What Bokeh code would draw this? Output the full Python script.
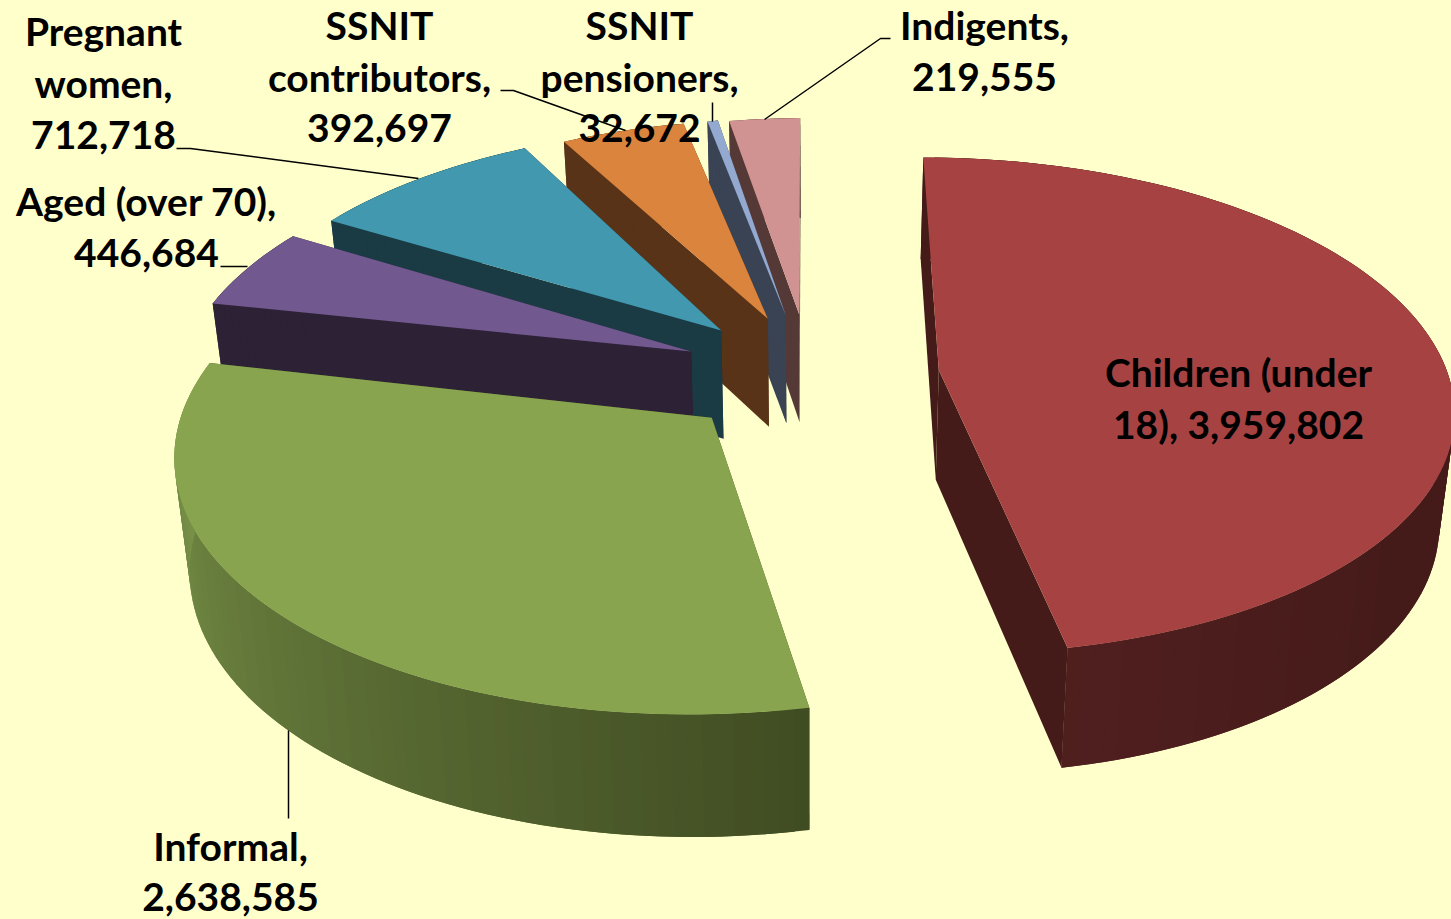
import math
from bokeh.plotting import figure
from bokeh.models import ColumnDataSource, Range1d
from bokeh.core.properties import value
from bokeh.embed import file_html
from bokeh.resources import INLINE

# ---- data
categories = ["Children (under 18)", "Informal", "Aged (over 70)", "Pregnant women",
              "SSNIT contributors", "SSNIT pensioners", "Indigents"]
values = [3959802, 2638585, 446684, 712718, 392697, 32672, 219555]

# ---- styles
top_colors = ["#A64342", "#89A44E", "#71588F", "#4198AF", "#DB843D", "#93A9CF", "#D19392"]
wall_colors = ["#451B1A", "#404C22", "#2D2136", "#1A3A44", "#593317", "#394354", "#553937"]
wall_end_colors = ["#4F1F1E", "#7F9A4D", "#2D2136", "#1A3A44", "#593317", "#394354", "#553937"]
BG = "#FFFFCC"

# ---- projection of the exploded pie (perspective on a tilted disc)
X0, Y0 = 812.0, 378.0
F, G = 510.0, 245.0
K = 0.14
EXPLODE = 0.25
DEPTH = 110.0
BOTTOM_SCALE = 0.976
START_DEG = -1.0
N_PER_RAD = 40

# per-slice fine adjustment of the drawing, in screen pixels / degrees
arc_shift = [(0, -1), (-15, -9), (-6, -6), (0, -4), (1, -1), (5, -1), (6, 0)]
apex_shift = [(0, -2), (-8, -5), (-4, -5), (-5, -5), (-2, -4), (-3, -5), (-1, -5)]
trim_deg = [(1.0, -0.7), (0, 0), (0, 0), (-0.3, -0.3), (0, 0.4), (0, 0), (0, 0)]


def project(px, py, shift, bottom=False):
    w = 1 + K * py
    sx = X0 + F * px / w + shift[0]
    sy = Y0 - G * py / w + shift[1]
    if bottom:
        sx = X0 + (sx - X0) * BOTTOM_SCALE
        sy = sy + DEPTH / w ** 0.6
    return sx, sy


def hex2rgb(c):
    return [int(c[i:i + 2], 16) for i in (1, 3, 5)]


def mix(a, b, t):
    ra, rb = hex2rgb(a), hex2rgb(b)
    return "#%02x%02x%02x" % tuple(round(x + (y - x) * t) for x, y in zip(ra, rb))


total = sum(values)
xs, ys, fills = [], [], []


def add(poly, col):
    xs.append([q[0] for q in poly])
    ys.append([q[1] for q in poly])
    fills.append(col)


spans = []
a = math.radians(START_DEG)
for val in values:
    b = a + 2 * math.pi * val / total
    spans.append((a, b))
    a = b

# paint back to front: the small back slices first, the large front ones last
paint_order = [6, 5, 4, 3, 2, 1, 0]
for i in paint_order:
    a, b = spans[i]
    mid = (a + b) / 2
    ax, ay = EXPLODE * math.sin(mid), EXPLODE * math.cos(mid)
    a2 = a + math.radians(trim_deg[i][0])
    b2 = b - math.radians(trim_deg[i][1])
    n = max(3, int((b2 - a2) * N_PER_RAD))
    angs = [a2 + (b2 - a2) * j / n for j in range(n + 1)]
    pts = [(ax + math.sin(t), ay + math.cos(t)) for t in angs]
    top = [project(q[0], q[1], arc_shift[i]) for q in pts]
    bot = [project(q[0], q[1], arc_shift[i], bottom=True) for q in pts]
    atop = project(ax, ay, apex_shift[i])
    abot = project(ax, ay, apex_shift[i], bottom=True)
    # radial walls
    add([atop, top[0], bot[0], abot], wall_colors[i])
    add([atop, top[-1], bot[-1], abot], wall_colors[i])
    # outer wall: each strip overlaps the next one so that no seams show
    for j in range(n):
        t = (j + 0.5) / n
        if i == 0:
            t = max(0, (t - 0.75) * 4)
        c = mix(wall_colors[i], wall_end_colors[i], t)
        e = min(j + 2, n)
        add([top[j], top[e], bot[e], bot[j]], c)
    # top face
    add([atop] + top, top_colors[i])

p = figure(width=1451, height=919, output_backend="svg", toolbar_location=None,
           x_range=Range1d(0, 1451), y_range=Range1d(919, 0), min_border=0,
           background_fill_color=BG, border_fill_color=BG, outline_line_color=None)
p.axis.visible = False
p.grid.visible = False

p.patches("xs", "ys", source=ColumnDataSource(dict(xs=xs, ys=ys, c=fills)),
          fill_color="c", line_color=None)

# ---- leader lines (layout)
leaders = [
    ([176, 190, 418], [148, 148, 178]),
    ([220, 247], [266, 266]),
    ([500, 513, 625], [90, 90, 130]),
    ([712, 712], [102, 121]),
    ([890, 880, 764], [38, 38, 119]),
    ([288, 288], [730, 818]),
]
p.multi_line([l[0] for l in leaders], [l[1] for l in leaders], line_color="#000000", line_width=1.5)

# ---- labels (layout)
labels = [
    ("Pregnant", 103, 30), ("women,", 103, 82), ("712,718", 103, 134),
    ("SSNIT", 379, 24), ("contributors,", 379, 76), ("392,697", 379, 127),
    ("SSNIT", 639, 24), ("pensioners,", 639, 76), ("32,672", 639, 127),
    ("Indigents,", 984, 24), ("219,555", 984, 76),
    ("Aged (over 70),", 146, 200), ("446,684", 146, 252),
    ("Children (under", 1238, 371), ("18), 3,959,802", 1238, 423),
    ("Informal,", 230, 845), ("2,638,585", 230, 896),
]
p.text([l[1] for l in labels], [l[2] for l in labels], text=[l[0] for l in labels],
       text_font=value("Lato"), text_font_style="bold", text_font_size="39px",
       text_color="#000000", text_align="center", text_baseline="middle")

html = file_html(p, INLINE)
html = html.replace("<head>", "<head><style>html,body{margin:0;padding:0;overflow:hidden;background:%s}</style>" % BG, 1)
open("out.html", "w").write(html)
